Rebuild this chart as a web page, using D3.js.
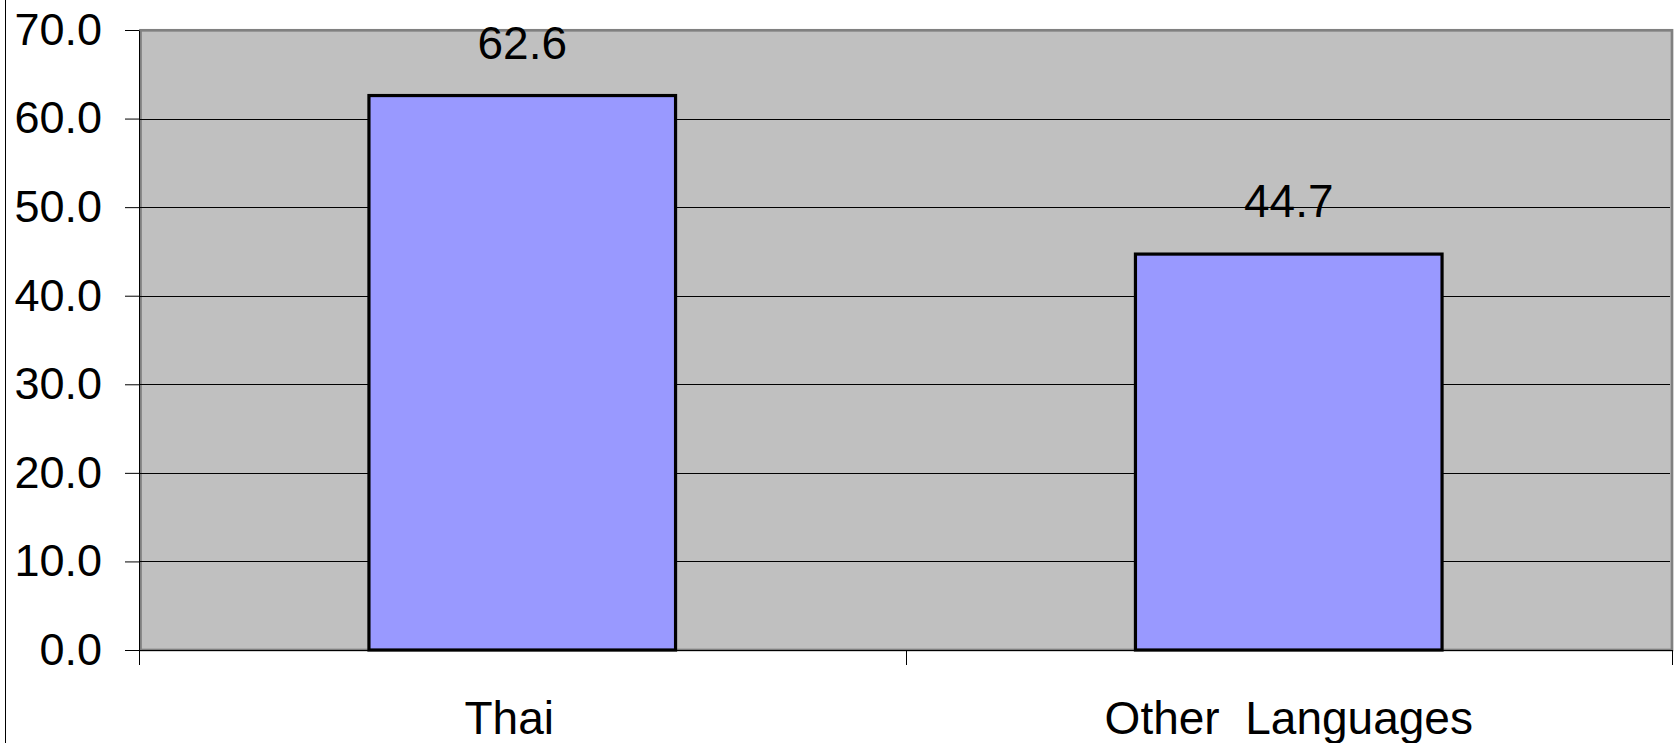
<!DOCTYPE html>
<html>
<head>
<meta charset="utf-8">
<script src="https://cdn.jsdelivr.net/npm/d3@7"></script>
<style>
  html, body { margin: 0; padding: 0; background: #fff; }
  svg { display: block; font-family: "Liberation Sans", Arial, sans-serif; }
</style>
</head>
<body>
<svg id="chart" width="1679" height="743"></svg>
<script>
// Share by language group
const categories = ["Thai", "Other  Languages"];
const values = [62.6, 44.7];
const yTicks = [0, 10, 20, 30, 40, 50, 60, 70];
const labelShift = [-13, 0];   // small horizontal nudge for category labels

const W = 1679, H = 743;
const plot = { left: 139, top: 30, right: 1672, bottom: 650 };

const svg = d3.select("#chart");

const x = d3.scaleBand().domain(categories).range([plot.left, plot.right]).padding(0);
const y = d3.scaleLinear().domain([0, 70]).range([plot.bottom, plot.top]);

// outer frame line on the left
svg.append("line")
  .attr("x1", 5.5).attr("x2", 5.5).attr("y1", 0).attr("y2", H)
  .attr("stroke", "#000").attr("stroke-width", 1);

// plot background with grey frame
svg.append("rect")
  .attr("x", plot.left + 1.5).attr("y", plot.top + 0.3)
  .attr("width", plot.right - plot.left - 1.5).attr("height", plot.bottom - plot.top - 0.3)
  .attr("fill", "#C0C0C0").attr("stroke", "#808080").attr("stroke-width", 2.7);

// horizontal gridlines
svg.append("g")
  .selectAll("line")
  .data(yTicks.filter(d => d > 0 && d < 70))
  .join("line")
  .attr("x1", plot.left).attr("x2", plot.right - 2)
  .attr("y1", d => Math.round(y(d)) + 0.5).attr("y2", d => Math.round(y(d)) + 0.5)
  .attr("stroke", "#000").attr("stroke-width", 1);

// bars
const barW = x.bandwidth() * 0.4;
svg.append("g")
  .selectAll("rect")
  .data(categories.map((c, i) => ({ c, v: values[i] })))
  .join("rect")
  .attr("x", d => x(d.c) + x.bandwidth() / 2 - barW / 2)
  .attr("y", d => y(d.v))
  .attr("width", barW)
  .attr("height", d => y(0) - y(d.v))
  .attr("fill", "#9999FF")
  .attr("stroke", "#000")
  .attr("stroke-width", 3.2);

// value labels
svg.append("g")
  .selectAll("text")
  .data(categories.map((c, i) => ({ c, v: values[i] })))
  .join("text")
  .attr("x", d => x(d.c) + x.bandwidth() / 2)
  .attr("y", d => y(d.v) - 37)
  .attr("text-anchor", "middle")
  .attr("font-size", 46)
  .attr("fill", "#000")
  .text(d => d3.format(".1f")(d.v));

// y axis
const yAxis = d3.axisLeft(y)
  .tickValues(yTicks)
  .tickSize(14)
  .tickSizeOuter(0)
  .tickPadding(23)
  .tickFormat(d3.format(".1f"));
const gy = svg.append("g")
  .attr("transform", `translate(${plot.left},0)`)
  .call(yAxis);
gy.select(".domain").attr("stroke", "#000").attr("stroke-width", 1);
gy.selectAll(".tick line").attr("stroke", "#000");
gy.selectAll(".tick text")
  .attr("font-size", 45)
  .attr("font-family", "Liberation Sans, Arial, sans-serif")
  .attr("fill", "#000");

// x axis line and tick marks at category boundaries
svg.append("line")
  .attr("x1", plot.left).attr("x2", plot.right)
  .attr("y1", plot.bottom + 0.5).attr("y2", plot.bottom + 0.5)
  .attr("stroke", "#000").attr("stroke-width", 1.2);
const bounds = categories.map(c => x(c)).concat([x.range()[1]]);
svg.append("g")
  .selectAll("line")
  .data(bounds)
  .join("line")
  .attr("x1", d => Math.round(d) + 0.5).attr("x2", d => Math.round(d) + 0.5)
  .attr("y1", plot.bottom).attr("y2", plot.bottom + 15)
  .attr("stroke", "#000").attr("stroke-width", 1);

// category labels
svg.append("g")
  .selectAll("text")
  .data(categories)
  .join("text")
  .attr("x", (d, i) => x(d) + x.bandwidth() / 2 + labelShift[i])
  .attr("y", 734)
  .attr("text-anchor", "middle")
  .attr("font-size", 46)
  .attr("fill", "#000")
  .style("white-space", "pre")
  .text(d => d);
</script>
</body>
</html>
